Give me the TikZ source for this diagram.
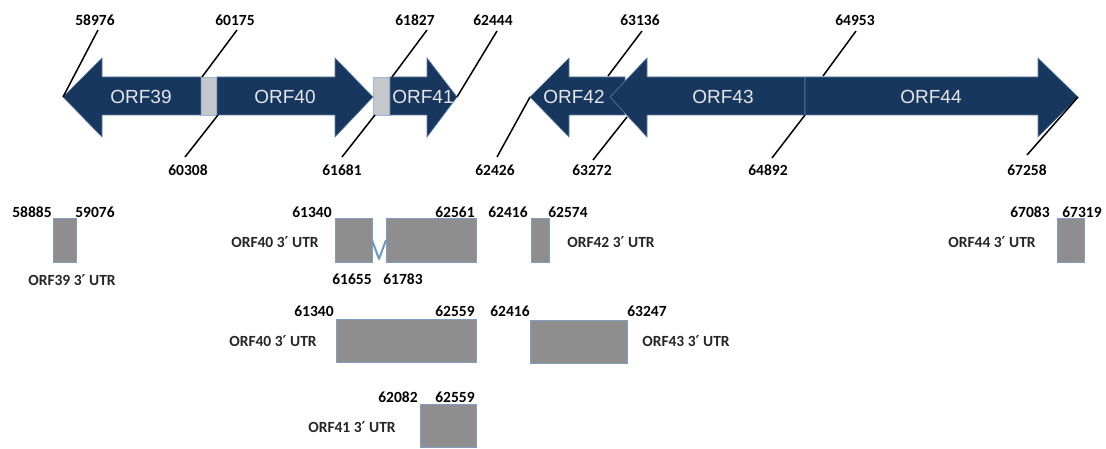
\documentclass[tikz,border=0pt]{standalone}
\usepackage{fontspec}
\setmainfont{Carlito}
\newfontfamily\arialf{Liberation Sans}
\newfontfamily\djv{DejaVu Sans}
\newcommand{\pr}{{\djv\bfseries\fontsize{15}{16}\selectfont ′}}
\definecolor{navy}{HTML}{17375E}
\definecolor{navyedge}{HTML}{5C7DA3}
\definecolor{orftext}{HTML}{E4E6EA}
\definecolor{spacer}{HTML}{C4C7CB}
\definecolor{spaceredge}{HTML}{9DB6D3}
\definecolor{utrfill}{HTML}{8E8E8E}
\definecolor{utredge}{HTML}{7F9EC3}
\definecolor{intron}{HTML}{6E97C6}
\begin{document}
\begin{tikzpicture}[x=1pt,y=-1pt,
  orfarrow/.style={fill=navy,draw=navyedge,line width=0.6pt,line join=miter},
  orflabel/.style={font=\arialf\fontsize{19}{22}\selectfont,text=orftext,inner sep=0pt},
  spacerbox/.style={fill=spacer,draw=spaceredge,line width=0.8pt},
  utrbox/.style={fill=utrfill,draw=utredge,line width=0.8pt},
  num/.style={font=\bfseries\fontsize{15.5}{18}\selectfont,inner sep=0pt,text=black},
  utrlabel/.style={font=\bfseries\fontsize{15.5}{18}\selectfont,inner sep=0pt,text=black!85},
  callout/.style={draw=black,line width=1.5pt},
  intronline/.style={draw=intron,line width=2pt,line join=round}]
\useasboundingbox (0,0) rectangle (1106,449);
% ---------- gene arrows ----------
\path[orfarrow] (63,97) -- (102,58) -- (102,77) -- (201,77) -- (201,115) -- (102,115) -- (102,137) -- cycle;
\path[spacerbox] (201,77) rectangle (217,115);
\path[orfarrow] (217,77) -- (335,77) -- (335,58) -- (373,97) -- (335,137) -- (335,115) -- (217,115) -- cycle;
\path[spacerbox] (373,77) rectangle (390,115);
\path[orfarrow] (390,77) -- (427,77) -- (427,58) -- (457,97) -- (427,137) -- (427,115) -- (390,115) -- cycle;
\path[orfarrow] (530,97) -- (569,58) -- (569,77) -- (625,77) -- (625,115) -- (569,115) -- (569,137) -- cycle;
\path[orfarrow] (610,97) -- (647,58) -- (647,77) -- (805,77) -- (805,115) -- (647,115) -- (647,137) -- cycle;
\path[orfarrow] (805,77) -- (1038,77) -- (1038,58) -- (1078,97) -- (1038,137) -- (1038,115) -- (805,115) -- cycle;
\node[orflabel] (o39) at (141,97) {ORF39};
\node[orflabel] (o40) at (285,97) {ORF40};
\node[orflabel] (o41) at (423,97) {ORF41};
\node[orflabel] (o42) at (574,97) {ORF42};
\node[orflabel] (o43) at (723,97) {ORF43};
\node[orflabel] (o44) at (931,97) {ORF44};
% ---------- coordinate labels ----------
\node[num] (n58976) at (95,20) {58976};
\node[num] (n60175) at (235,20) {60175};
\node[num] (n61827) at (415,20) {61827};
\node[num] (n62444) at (493,20) {62444};
\node[num] (n63136) at (640,20) {63136};
\node[num] (n64953) at (855,20) {64953};
\node[num] (n60308) at (188,170) {60308};
\node[num] (n61681) at (342,170) {61681};
\node[num] (n62426) at (495,170) {62426};
\node[num] (n63272) at (592,170) {63272};
\node[num] (n64892) at (768,170) {64892};
\node[num] (n67258) at (1027,170) {67258};
% callout ends
\coordinate (a58976) at (63,97);   \coordinate (b58976) at (98,30);
\coordinate (a60175) at (202,77);  \coordinate (b60175) at (237,30);
\coordinate (a61827) at (392,77);  \coordinate (b61827) at (427,30);
\coordinate (a62444) at (457,97);  \coordinate (b62444) at (497,31);
\coordinate (a63136) at (608,76);  \coordinate (b63136) at (642,31);
\coordinate (a64953) at (823,76);  \coordinate (b64953) at (856,31);
\coordinate (a60308) at (218,115); \coordinate (b60308) at (185,157);
\coordinate (a61681) at (375,115); \coordinate (b61681) at (342,157);
\coordinate (a62426) at (530,97);  \coordinate (b62426) at (497,157);
\coordinate (a63272) at (627,117); \coordinate (b63272) at (593,160);
\coordinate (a64892) at (805,115); \coordinate (b64892) at (772,158);
\coordinate (a67258) at (1078,97); \coordinate (b67258) at (1027,155);
\foreach \n in {58976,60175,61827,62444,63136,64953,60308,61681,62426,63272,64892,67258}
  \draw[callout] (a\n) -- (b\n);
% ---------- row 2 ----------
\node[num] (r2a) at (32,212) {58885};
\node[num] (r2b) at (95,212) {59076};
\path[utrbox] (53,218) rectangle (76,262);
\node[utrlabel] (u39) at (72,280) {ORF39 3\pr\ UTR};

\node[num] (r2c) at (312,212) {61340};
\node[num] (r2d) at (455,212) {62561};
\path[utrbox] (335,218) rectangle (372,262);
\path[utrbox] (386,218) rectangle (476,262);
\coordinate (v1) at (372,240); \coordinate (v2) at (379,259); \coordinate (v3) at (386,240);
\draw[intronline] (v1) -- (v2) -- (v3);
\node[utrlabel] (u40a) at (275,242) {ORF40 3\pr\ UTR};
\node[num] (r2e) at (352,279) {61655};
\node[num] (r2f) at (403,279) {61783};

\node[num] (r2g) at (508,212) {62416};
\node[num] (r2h) at (568,212) {62574};
\path[utrbox] (531,218) rectangle (549,262);
\node[utrlabel] (u42) at (611,242) {ORF42 3\pr\ UTR};

\node[num] (r2i) at (1030,212) {67083};
\node[num] (r2j) at (1082,212) {67319};
\path[utrbox] (1057,218) rectangle (1084,262);
\node[utrlabel] (u44) at (992,242) {ORF44 3\pr\ UTR};
% ---------- row 3 ----------
\node[num] (r3a) at (314,311) {61340};
\node[num] (r3b) at (455,311) {62559};
\path[utrbox] (336,319) rectangle (476,362);
\node[utrlabel] (u40b) at (273,341) {ORF40 3\pr\ UTR};
\node[num] (r3c) at (510,311) {62416};
\node[num] (r3d) at (647,311) {63247};
\path[utrbox] (530,320) rectangle (627,363);
\node[utrlabel] (u43) at (686,341) {ORF43 3\pr\ UTR};
% ---------- row 4 ----------
\node[num] (r4a) at (398,397) {62082};
\node[num] (r4b) at (455,397) {62559};
\path[utrbox] (420,404) rectangle (476,447);
\node[utrlabel] (u41) at (352,427) {ORF41 3\pr\ UTR};
\end{tikzpicture}
\end{document}
